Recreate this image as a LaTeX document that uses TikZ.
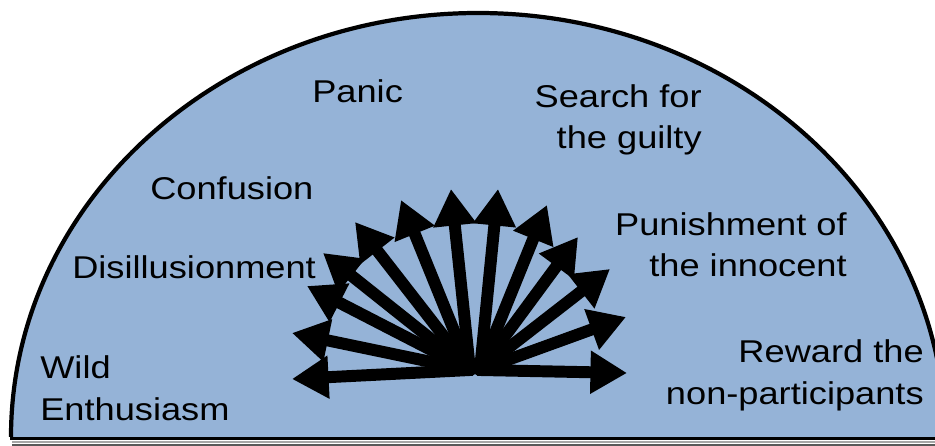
\documentclass[tikz,border=0pt]{standalone}
\usepackage{fontspec}
\setmainfont{Liberation Sans}[FakeStretch=1.15]
\usetikzlibrary{arrows.meta}
\definecolor{domeblue}{RGB}{149,179,215}

\begin{document}
\begin{tikzpicture}[x=0.025cm, y=-0.025cm,
  phase/.style={font=\fontsize{22.4}{29.2}\selectfont, inner sep=0pt},
  spoke/.style={line width=8.5pt, line cap=round,
                -{Triangle[length=26pt, width=29pt]}},
]
\clip (0,0) rectangle (935,446);

%% Dome
\fill[domeblue] (11,437) arc[start angle=180, end angle=360,
  x radius=467, y radius=424] -- cycle;
\draw[line width=3pt] (11,437) arc[start angle=180, end angle=360,
  x radius=467, y radius=424];

%% Floor
\draw[line width=2.6pt] (10,438.5) -- (935,438.5);
\draw[line width=1.8pt, black!35] (12,442) -- (935,442);
\draw[line width=1.4pt, black!65] (12,445) -- (935,445);

%% Hub of the fan
\coordinate (hubL) at (470,370);
\coordinate (hubR) at (480,370);

%% Spokes, left half
\foreach \n/\x/\y in {1/292/379, 2/292/333, 3/307/286, 4/323/253,
                      5/355/222, 6/401/200, 7/451/189}{
  \coordinate (tip\n) at (\x,\y);
  \draw[spoke] (hubL) -- (tip\n);
}
%% Spokes, right half
\foreach \n/\x/\y in {8/498/189, 9/547/205, 10/578/237, 11/610/269,
                      12/626/317, 13/627/373}{
  \coordinate (tip\n) at (\x,\y);
  \draw[spoke] (hubR) -- (tip\n);
}

%% Phases
\node[phase, anchor=base west, align=left] (wild) at (40,420)
  {Wild\\Enthusiasm};
\node[phase, anchor=base west] (disil) at (72,279) {Disillusionment};
\node[phase, anchor=base west] (confu) at (150,200) {Confusion};
\node[phase, anchor=base west] (panic) at (312,103) {Panic};
\node[phase, anchor=base east, align=right] (guilty) at (702,149)
  {Search for\\the guilty};
\node[phase, anchor=base east, align=right] (punish) at (847,277)
  {Punishment of\\the innocent};
\node[phase, anchor=base east, align=right] (reward) at (924,404)
  {Reward the\\non-participants};
\end{tikzpicture}
\end{document}
